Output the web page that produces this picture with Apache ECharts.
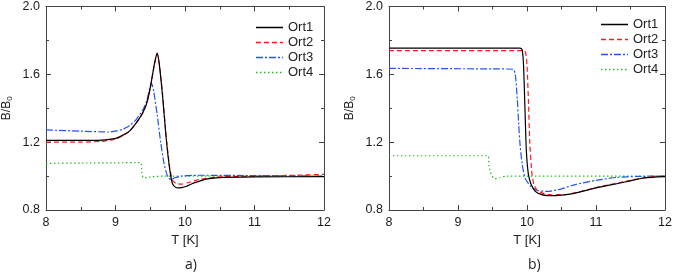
<!DOCTYPE html>
<html><head><meta charset="utf-8">
<script src="https://cdn.jsdelivr.net/npm/echarts@6/dist/echarts.min.js"></script>
<style>html,body{margin:0;padding:0;background:#fff}#c{width:675px;height:276px}</style>
</head><body><div id="c"></div>
<script>
const seriesNames = ['Ort1','Ort2','Ort3','Ort4'];
const xTicks = [8, 9, 10, 11, 12];
const yTicks = [0.8, 1.2, 1.6, 2.0];
const panelLabels = ['a)', 'b)'];

// Panel a) [T, B/B0]
const aOrt1 = [[8,1.21],[8.5,1.21],[8.8,1.212],[9.0,1.222],[9.1,1.24],[9.2,1.265],[9.3,1.315],[9.35,1.345],[9.4,1.38],[9.45,1.43],[9.5,1.52],[9.55,1.64],[9.58,1.70],[9.6,1.725],[9.63,1.66],[9.68,1.46],[9.73,1.22],[9.78,1.04],[9.82,0.955],[9.86,0.935],[9.9,0.93],[9.95,0.932],[10.02,0.94],[10.1,0.955],[10.21,0.97],[10.3,0.982],[10.45,0.99],[11,0.995],[12,0.997]];
const aOrt2 = [[8,1.20],[8.5,1.20],[8.8,1.205],[9.0,1.218],[9.1,1.237],[9.2,1.263],[9.3,1.313],[9.35,1.343],[9.4,1.378],[9.45,1.43],[9.5,1.52],[9.55,1.635],[9.58,1.695],[9.6,1.72],[9.63,1.66],[9.68,1.47],[9.73,1.23],[9.78,1.05],[9.82,0.975],[9.87,0.957],[9.95,0.953],[10.05,0.962],[10.2,0.98],[10.5,0.995],[11,1.0],[11.5,1.004],[12,1.01]];
const aOrt3 = [[8,1.272],[8.5,1.265],[8.9,1.26],[9.0,1.265],[9.1,1.275],[9.2,1.297],[9.3,1.335],[9.4,1.395],[9.45,1.445],[9.5,1.53],[9.52,1.545],[9.55,1.50],[9.6,1.36],[9.65,1.20],[9.7,1.07],[9.75,0.998],[9.8,0.978],[9.85,0.99],[9.95,1.0],[10.2,1.005],[11,1.003],[12,1.0]];
const aOrt4 = [[8,1.075],[8.5,1.077],[9.0,1.078],[9.36,1.08],[9.38,1.02],[9.4,0.99],[9.45,0.99],[9.5,0.995],[9.7,1.0],[12,1.0]];

// Panel b) [T, B/B0]
const bOrt1 = [[8,1.755],[9.9,1.755],[9.93,1.745],[9.95,1.65],[9.97,1.40],[9.99,1.15],[10.02,1.01],[10.06,0.95],[10.12,0.91],[10.2,0.892],[10.3,0.885],[10.5,0.888],[10.7,0.90],[11.0,0.93],[11.3,0.955],[11.5,0.972],[11.7,0.99],[12,0.997]];
const bOrt2 = [[8,1.74],[9.95,1.74],[9.98,1.73],[10.0,1.65],[10.02,1.45],[10.04,1.20],[10.07,1.02],[10.1,0.95],[10.15,0.915],[10.25,0.895],[10.35,0.89],[10.6,0.893],[11.0,0.932],[11.5,0.975],[11.8,0.995],[12,1.0]];
const bOrt3 = [[8,1.635],[9.5,1.632],[9.8,1.63],[9.83,1.60],[9.86,1.45],[9.88,1.30],[9.9,1.18],[9.93,1.07],[9.97,0.99],[10.05,0.94],[10.15,0.915],[10.3,0.91],[10.5,0.925],[10.7,0.95],[11.0,0.975],[11.3,0.992],[11.6,0.998],[12,1.0]];
const bOrt4 = [[8,1.12],[9.43,1.12],[9.45,1.06],[9.48,1.01],[9.53,0.985],[9.6,0.99],[9.7,1.0],[12,1.0]];

const panels = [[aOrt1,aOrt2,aOrt3,aOrt4],[bOrt1,bOrt2,bOrt3,bOrt4]];
const colors = ['#000000','#ff1a1a','#2255ee','#22bb22'];
const types = ['solid',[5,3],[7,2,2,2],[1.5,2.5]];
const font = 'Liberation Sans, Arial, sans-serif';
const frameColor = '#444';

// legend icon: dash pattern rendered as filled segments of a 27px-wide strip
function dashIcon(pattern) {
  const W = 27, H = 1.3;
  const pat = pattern === 'solid' ? [W, 0] : pattern;
  let x = 0, i = 0, d = '';
  while (x < W) {
    const len = Math.min(pat[i % pat.length], W - x);
    if (i % 2 === 0 && len > 0) d += 'M' + x + ',0h' + len + 'v' + H + 'h' + (-len) + 'z';
    x += pat[i % pat.length] || W; i++;
  }
  d += 'M' + W + ',0h0.001v' + H + 'h-0.001z';
  return 'path://' + d;
}

const grids = [
  {left:46, top:6, width:278, height:204},
  {left:389, top:6, width:279, height:204}
];
const xAxis = [], yAxis = [], series = [], legend = [], title = [];
grids.forEach((g, gi) => {
  const baseX = {type:'value', gridIndex:gi, min:xTicks[0], max:xTicks[xTicks.length-1], interval:1,
    splitLine:{show:false}, axisLine:{show:true, onZero:false, lineStyle:{color:frameColor,width:1}},
    axisTick:{show:true, inside:true, length:5, lineStyle:{color:frameColor}},
    minorTick:{show:true, splitNumber:2, length:3, lineStyle:{color:frameColor}}};
  const baseY = {type:'value', gridIndex:gi, min:yTicks[0], max:yTicks[yTicks.length-1], interval:0.4,
    splitLine:{show:false}, axisLine:{show:true, onZero:false, lineStyle:{color:frameColor,width:1}},
    axisTick:{show:true, inside:true, length:5, lineStyle:{color:frameColor}},
    minorTick:{show:true, splitNumber:2, length:3, lineStyle:{color:frameColor}}};
  xAxis.push(Object.assign({}, baseX, {position:'bottom', name:'T [K]', nameLocation:'middle', nameGap:23,
    nameTextStyle:{fontFamily:font, fontSize:13, color:'#222'},
    axisLabel:{fontFamily:font, fontSize:12.5, color:'#1a1a1a', margin:6}}));
  xAxis.push(Object.assign({}, baseX, {position:'top', axisLabel:{show:false}}));
  yAxis.push(Object.assign({}, baseY, {position:'left', name:'{a|B/B}{s|0}', nameLocation:'middle', nameGap:32, nameRotate:90,
    nameTextStyle:{fontFamily:font, color:'#222', rich:{a:{fontFamily:font,fontSize:12,color:'#222'}, s:{fontFamily:font,fontSize:8,color:'#222',verticalAlign:'bottom',padding:[6,0,0,0]}}},
    axisLabel:{fontFamily:font, fontSize:12.5, color:'#1a1a1a', margin:6, formatter:v=>v.toFixed(1)}}));
  yAxis.push(Object.assign({}, baseY, {position:'right', axisLabel:{show:false}}));
  panels[gi].forEach((d, si) => {
    series.push({type:'line', name:seriesNames[si], xAxisIndex:gi*2, yAxisIndex:gi*2, data:d,
      symbol:'none', smooth:0.2, z: 10-si,
      lineStyle:{color:colors[si], width:1.2, type:types[si]}, itemStyle:{color:colors[si]}});
  });
  legend.push({data:seriesNames.map((n, si) => ({name:n, icon:dashIcon(types[si]),
      itemStyle:{color:colors[si], borderWidth:0}})),
    orient:'vertical', left: gi===0 ? 256 : 601, top: gi===0 ? 21 : 18,
    itemWidth:27, itemHeight:1.3, itemGap:2, padding:0, textStyle:{fontFamily:font, fontSize:13, color:'#222', lineHeight:13},
    selectedMode:false});
  title.push({text:panelLabels[gi], left: gi===0 ? 185 : 528, top:258, padding:0,
    textStyle:{fontFamily:'Open Sans, sans-serif', fontSize:14, fontWeight:'normal', color:'#222'}});
});

const chart = echarts.init(document.getElementById('c'), null, {renderer:'canvas'});
chart.setOption({animation:false, backgroundColor:'#fff', grid:grids, xAxis, yAxis, series, legend, title});
</script></body></html>
